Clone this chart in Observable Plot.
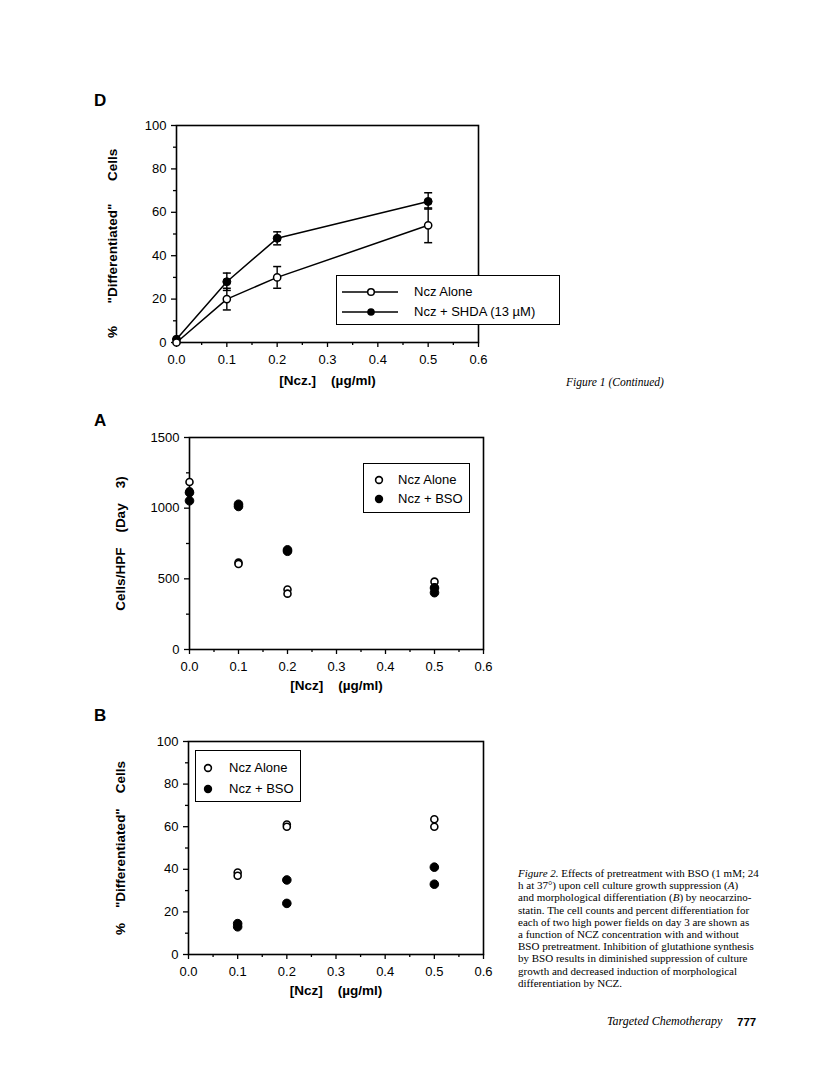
<!DOCTYPE html>
<html>
<head>
<meta charset="utf-8">
<script src="https://cdn.jsdelivr.net/npm/d3@7"></script>
<script src="https://cdn.jsdelivr.net/npm/@observablehq/plot@0.6"></script>
<style>
  html, body { margin: 0; padding: 0; background: #fff; }
  #page { position: relative; width: 816px; height: 1073px; background: #fff; overflow: hidden;
          font-family: "Liberation Sans", Arial, sans-serif; color: #000; }
  .abs { position: absolute; }
  .panel { font-weight: bold; font-size: 17px; }
  .legend { position: absolute; background: #fff; border: 1.5px solid #000; box-sizing: border-box;
            font-size: 13px; }
  .legend .row { position: absolute; left: 0; display: flex; align-items: center; white-space: nowrap; }
  .legend svg { display: block; }
  .caption { font-family: "Liberation Serif", "Times New Roman", serif; font-size: 11px; line-height: 12.2px; white-space: nowrap; }
  .plot svg { overflow: visible; }
</style>
</head>
<body>
<div id="page">
  <div class="abs panel" style="left:94px; top:91px;">D</div>
  <div class="abs panel" style="left:94px; top:411px;">A</div>
  <div class="abs panel" style="left:94px; top:706px;">B</div>

  <div id="plotD" class="abs plot" style="left:90px; top:110px;"></div>
  <div id="plotA" class="abs plot" style="left:90px; top:420px;"></div>
  <div id="plotB" class="abs plot" style="left:90px; top:725px;"></div>

  <div class="legend" id="legD" style="left:336px; top:275px; width:224px; height:50px;"></div>
  <div class="legend" id="legA" style="left:363px; top:463px; width:107px; height:50px;"></div>
  <div class="legend" id="legB" style="left:195px; top:750px; width:106px; height:52px;"></div>

  <div class="abs caption" style="left:566px; top:376px; font-style:italic; font-size:11.5px;">Figure 1 <span>(Continued)</span></div>

  <div class="abs caption" id="cap2" style="left:518px; top:867px;"></div>

  <div class="abs caption" style="left:607px; top:1015px; font-style:italic; font-size:12px;">Targeted Chemotherapy</div>
  <div class="abs" style="left:737px; top:1016px; font-weight:bold; font-size:11.5px;">777</div>
</div>
<script>
// ---------- Data ----------
// Figure 1 D (means with error bars)
const dDoses      = [0, 0.1, 0.2, 0.5];
const dAloneMean  = [0, 20, 30, 54];
const dAloneLow   = [0, 15, 25, 46];
const dAloneHigh  = [0, 25, 35, 62];
const dShdaMean   = [1.5, 28, 48, 65];
const dShdaLow    = [1.5, 24, 45, 61.5];
const dShdaHigh   = [1.5, 32, 51, 69];
const dLegendLabels = ["Ncz Alone", "Ncz + SHDA (13 \u00b5M)"];

// Figure 2 A (cells/HPF, two fields per dose)
const aAloneDoses = [0, 0, 0.1, 0.1, 0.2, 0.2, 0.5, 0.5];
const aAloneCells = [1185, 1120, 615, 605, 425, 395, 480, 440];
const aBsoDoses   = [0, 0, 0.1, 0.1, 0.2, 0.2, 0.5, 0.5];
const aBsoCells   = [1110, 1052, 1028, 1012, 705, 695, 435, 402];

// Figure 2 B (% differentiated, two fields per dose)
const bAloneDoses = [0.1, 0.1, 0.2, 0.2, 0.5, 0.5];
const bAlonePct   = [38.5, 37, 61, 60, 63.5, 60];
const bBsoDoses   = [0.1, 0.1, 0.2, 0.2, 0.5, 0.5];
const bBsoPct     = [14.5, 13, 35, 24, 41, 33];
const abLegendLabels = ["Ncz Alone", "Ncz + BSO"];

// Axis ticks
const xTicks      = [0, 0.1, 0.2, 0.3, 0.4, 0.5, 0.6];
const xMinorTicks = [0.05, 0.15, 0.25, 0.35, 0.45, 0.55];
const pctTicks      = [0, 20, 40, 60, 80, 100];
const pctMinorTicks = [10, 30, 50, 70, 90];
const cellTicks      = [0, 500, 1000, 1500];
const cellMinorTicks = [250, 750, 1250];

// ---------- helpers ----------
const FONT = "'Liberation Sans', Arial, sans-serif";
const capSymbol = {
  draw(context, size) {
    const w = Math.sqrt(size / Math.PI);
    context.moveTo(-w, 0);
    context.lineTo(w, 0);
  }
};
const nb = s => s.replace(/ /g, "\u00a0");

function axes({yTicks, yMinor, yLabel, yLabelOffset, xLabel, xLabelOffset}) {
  return [
    Plot.axisX({ticks: xTicks, tickSize: 5, tickPadding: 7, tickFormat: d3.format(".1f"),
      fontSize: 13, label: nb(xLabel), labelAnchor: "center", labelOffset: xLabelOffset, labelArrow: "none",
      strokeWidth: 1.3}),
    Plot.axisX({ticks: xMinorTicks, tickSize: 3, tickFormat: () => "", label: null, strokeWidth: 1.3}),
    Plot.axisY({ticks: yTicks, tickSize: 5, tickPadding: 5, fontSize: 13, tickFormat: d3.format("d"),
      label: nb(yLabel), labelAnchor: "center", labelOffset: yLabelOffset, labelArrow: "none", strokeWidth: 1.3}),
    Plot.axisY({ticks: yMinor, tickSize: 3, tickFormat: () => "", label: null, strokeWidth: 1.3})
  ];
}

function boldLabels(svg) {
  svg.querySelectorAll("g[aria-label='x-axis label'] text, g[aria-label='y-axis label'] text")
    .forEach(t => { t.setAttribute("font-weight", "bold"); t.setAttribute("font-size", "13.5"); });
}

// ---------- Plot D ----------
const dAlone = dDoses.map((x, i) => ({x, y: dAloneMean[i], lo: dAloneLow[i], hi: dAloneHigh[i]}));
const dShda  = dDoses.map((x, i) => ({x, y: dShdaMean[i], lo: dShdaLow[i], hi: dShdaHigh[i]}));

const plotD = Plot.plot({
  width: 420, height: 290,
  marginLeft: 86, marginRight: 32, marginTop: 15, marginBottom: 58,
  style: {fontFamily: FONT, fontSize: "13px", color: "black", background: "transparent"},
  x: {domain: [0, 0.6]},
  y: {domain: [0, 100]},
  marks: [
    ...axes({yTicks: pctTicks, yMinor: pctMinorTicks, yLabel: '%      "Differentiated"      Cells     ', yLabelOffset: 69,
             xLabel: "[Ncz.]    (\u00b5g/ml)", xLabelOffset: 42}),
    Plot.frame({stroke: "black", strokeWidth: 1.6}),
    Plot.line(dShda, {x: "x", y: "y", stroke: "black", strokeWidth: 1.5}),
    Plot.line(dAlone, {x: "x", y: "y", stroke: "black", strokeWidth: 1.5}),
    Plot.ruleX(dShda, {x: "x", y1: "lo", y2: "hi", stroke: "black", strokeWidth: 1.4}),
    Plot.ruleX(dAlone, {x: "x", y1: "lo", y2: "hi", stroke: "black", strokeWidth: 1.4}),
    Plot.dot(dShda, {x: "x", y: "lo", symbol: capSymbol, r: 4, stroke: "black", strokeWidth: 1.5}),
    Plot.dot(dShda, {x: "x", y: "hi", symbol: capSymbol, r: 4, stroke: "black", strokeWidth: 1.5}),
    Plot.dot(dAlone, {x: "x", y: "lo", symbol: capSymbol, r: 4, stroke: "black", strokeWidth: 1.5}),
    Plot.dot(dAlone, {x: "x", y: "hi", symbol: capSymbol, r: 4, stroke: "black", strokeWidth: 1.5}),
    Plot.dot(dShda, {x: "x", y: "y", r: 4, fill: "black", stroke: "black", strokeWidth: 1}),
    Plot.dot(dAlone, {x: "x", y: "y", r: 3.6, fill: "white", stroke: "black", strokeWidth: 1.5})
  ]
});
boldLabels(plotD);
document.getElementById("plotD").appendChild(plotD);

// ---------- Plot A ----------
const aAlone = aAloneDoses.map((x, i) => ({x, y: aAloneCells[i]}));
const aBso   = aBsoDoses.map((x, i) => ({x, y: aBsoCells[i]}));
const plotA = Plot.plot({
  width: 420, height: 280,
  marginLeft: 99, marginRight: 27, marginTop: 17, marginBottom: 51,
  style: {fontFamily: FONT, fontSize: "13px", color: "black", background: "transparent"},
  x: {domain: [0, 0.6]},
  y: {domain: [0, 1500]},
  marks: [
    ...axes({yTicks: cellTicks, yMinor: cellMinorTicks, yLabel: "Cells/HPF    (Day    3)", yLabelOffset: 74,
             xLabel: "[Ncz]    (\u00b5g/ml)", xLabelOffset: 40}),
    Plot.frame({stroke: "black", strokeWidth: 1.6}),
    Plot.dot(aAlone, {x: "x", y: "y", r: 3.5, fill: "white", stroke: "black", strokeWidth: 1.6}),
    Plot.dot(aBso, {x: "x", y: "y", r: 4.3, fill: "black", stroke: "black", strokeWidth: 1})
  ]
});
boldLabels(plotA);
document.getElementById("plotA").appendChild(plotA);

// ---------- Plot B ----------
const bAlone = bAloneDoses.map((x, i) => ({x, y: bAlonePct[i]}));
const bBso   = bBsoDoses.map((x, i) => ({x, y: bBsoPct[i]}));
const plotB = Plot.plot({
  width: 420, height: 280,
  marginLeft: 98, marginRight: 27, marginTop: 16, marginBottom: 51,
  style: {fontFamily: FONT, fontSize: "13px", color: "black", background: "transparent"},
  x: {domain: [0, 0.6]},
  y: {domain: [0, 100]},
  marks: [
    ...axes({yTicks: pctTicks, yMinor: pctMinorTicks, yLabel: '%    "Differentiated"    Cells', yLabelOffset: 73,
             xLabel: "[Ncz]    (\u00b5g/ml)", xLabelOffset: 40}),
    Plot.frame({stroke: "black", strokeWidth: 1.6}),
    Plot.dot(bAlone, {x: "x", y: "y", r: 3.5, fill: "white", stroke: "black", strokeWidth: 1.6}),
    Plot.dot(bBso, {x: "x", y: "y", r: 4.3, fill: "black", stroke: "black", strokeWidth: 1})
  ]
});
boldLabels(plotB);
document.getElementById("plotB").appendChild(plotB);

// ---------- Legends ----------
function legendRow(top, left, svgInner, svgW, label, gap) {
  return `<div class="row" style="top:${top}px; left:${left}px;">
    <svg width="${svgW}" height="12">${svgInner}</svg>
    <span style="margin-left:${gap}px">${label}</span></div>`;
}
document.getElementById("legD").innerHTML =
  legendRow(8, 5, `<line x1="0" x2="56" y1="6" y2="6" stroke="black" stroke-width="1.5"/><circle cx="29" cy="6" r="3.3" fill="white" stroke="black" stroke-width="1.5"/>`, 56, dLegendLabels[0], 16) +
  legendRow(28, 5, `<line x1="0" x2="56" y1="6" y2="6" stroke="black" stroke-width="1.5"/><circle cx="29" cy="6" r="3.8" fill="black"/>`, 56, dLegendLabels[1], 16);
const dotOpen = `<circle cx="6" cy="6" r="3.4" fill="white" stroke="black" stroke-width="1.6"/>`;
const dotFill = `<circle cx="6" cy="6" r="4.2" fill="black"/>`;
document.getElementById("legA").innerHTML =
  legendRow(8, 9, dotOpen, 12, abLegendLabels[0], 13) + legendRow(27, 9, dotFill, 12, abLegendLabels[1], 13);
document.getElementById("legB").innerHTML =
  legendRow(9, 6, dotOpen, 12, abLegendLabels[0], 15) + legendRow(30, 6, dotFill, 12, abLegendLabels[1], 15);

// ---------- Caption ----------
const captionLines = [
  "<i>Figure 2.</i> Effects of pretreatment with BSO (1 mM; 24",
  "h at 37\u00b0) upon cell culture growth suppression (<i>A</i>)",
  "and morphological differentiation (<i>B</i>) by neocarzino-",
  "statin. The cell counts and percent differentiation for",
  "each of two high power fields on day 3 are shown as",
  "a function of NCZ concentration with and without",
  "BSO pretreatment. Inhibition of glutathione synthesis",
  "by BSO results in diminished suppression of culture",
  "growth and decreased induction of morphological",
  "differentiation by NCZ."
];
document.getElementById("cap2").innerHTML = captionLines.join("<br>");
</script>
</body>
</html>
